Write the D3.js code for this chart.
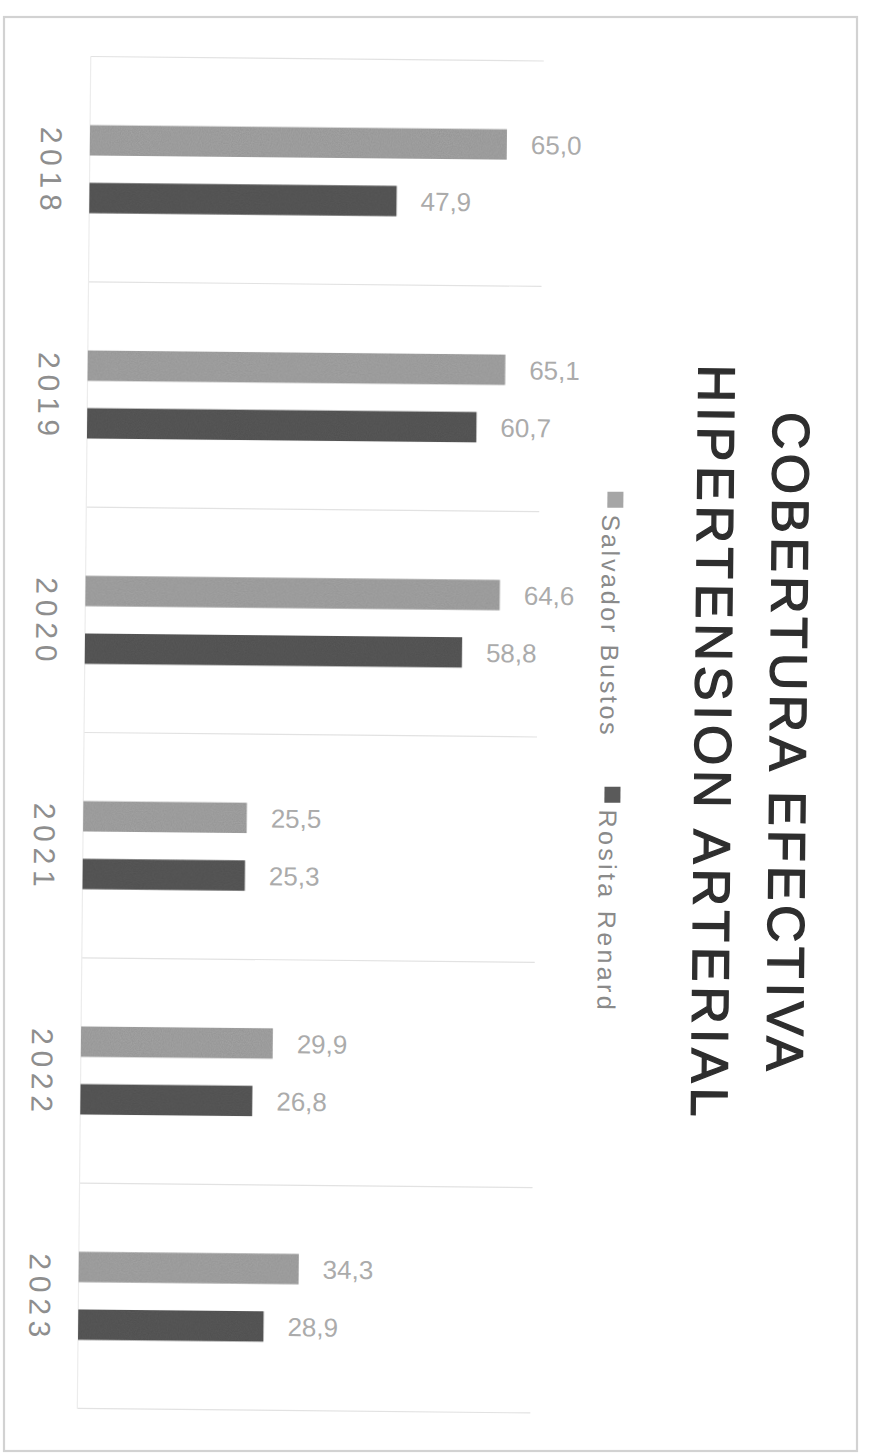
<!DOCTYPE html>
<html><head><meta charset="utf-8">
<script src="https://cdn.jsdelivr.net/npm/d3@7"></script>
<style>html,body{margin:0;padding:0;background:#fff;}svg{display:block;}</style>
</head><body>
<script>
const years = ["2018","2019","2020","2021","2022","2023"];
const seriesNames = ["Salvador Bustos","Rosita Renard"];
const salvadorBustos = [65.0, 65.1, 64.6, 25.5, 29.9, 34.3];
const rositaRenard = [47.9, 60.7, 58.8, 25.3, 26.8, 28.9];
const titleLines = ["COBERTURA EFECTIVA","HIPERTENSION ARTERIAL"];
const colors = ["#a6a6a6","#5a5a5a"];

const W = 876, H = 1456;
const svg = d3.select("body").append("svg").attr("width", W).attr("height", H);

const defs = svg.append("defs");
const f = defs.append("filter").attr("id","grain").attr("x",0).attr("y",0).attr("width",1).attr("height",1);
f.append("feTurbulence").attr("type","fractalNoise").attr("baseFrequency",0.9).attr("numOctaves",2).attr("seed",3).attr("result","n");
f.append("feColorMatrix").attr("in","n").attr("type","matrix")
 .attr("values","0 0 0 0 0  0 0 0 0 0  0 0 0 0 0  0 0 0 0.25 0").attr("result","na");
f.append("feComposite").attr("in","na").attr("in2","SourceGraphic").attr("operator","in").attr("result","nm");
f.append("feMerge").selectAll("feMergeNode").data(["SourceGraphic","nm"]).join("feMergeNode").attr("in",d=>d);

// outer frame
svg.append("rect").attr("x",4).attr("y",17).attr("width",853).attr("height",1434)
  .attr("fill","none").attr("stroke","#d2d2d2").attr("stroke-width",2.2);

const g = svg.append("g").attr("transform","rotate(0.57,438,738)");

const x = d3.scaleLinear().domain([0,70]).range([84, 533]);
const y = d3.scaleBand().domain(years).range([60, 1412]).padding(0);
const ys = d3.scaleBand().domain(seriesNames).range([0, y.bandwidth()]).paddingInner(0.4737).paddingOuter(1.19);

// category separators
const seps = years.map(d => y(d)).concat([y.range()[1]]);
g.append("g").selectAll("line").data(seps).join("line")
  .attr("x1", x(0)).attr("x2", 537).attr("y1", d=>d).attr("y2", d=>d)
  .attr("stroke","#e2e2e2").attr("stroke-width",1.2);
g.append("line").attr("x1",x(0)).attr("x2",x(0)).attr("y1",y.range()[0]).attr("y2",y.range()[1])
  .attr("stroke","#ececec").attr("stroke-width",1.2);

const data = [];
years.forEach((yr,i)=>{
  data.push({year:yr, s:seriesNames[0], v:salvadorBustos[i], c:colors[0]});
  data.push({year:yr, s:seriesNames[1], v:rositaRenard[i], c:colors[1]});
});

g.append("g").selectAll("rect").data(data).join("rect")
  .attr("x", x(0)).attr("y", d=>y(d.year)+ys(d.s))
  .attr("width", d=>x(d.v)-x(0)).attr("height", ys.bandwidth())
  .attr("fill", d=>d.c).attr("filter","url(#grain)");

g.append("g").selectAll("text").data(data).join("text")
  .attr("x", d=>x(d.v)+24).attr("y", d=>y(d.year)+ys(d.s)+ys.bandwidth()/2)
  .attr("dy","0.36em")
  .attr("font-family","'Liberation Sans', Arial, sans-serif").attr("font-size",26)
  .attr("fill","#ababab")
  .text(d=>d.v.toFixed(1).replace(".",","));

// year labels (rotated)
g.append("g").selectAll("text").data(years).join("text")
  .attr("transform", d=>`translate(35,${y(d)+y.bandwidth()/2}) rotate(90)`)
  .attr("text-anchor","middle")
  .attr("font-family","'Liberation Sans', Arial, sans-serif").attr("font-size",30)
  .attr("fill","#8e8e8e")
  .attr("textLength",84).attr("lengthAdjust","spacing")
  .text(d=>d);

// title (rotated)
const titleX = [770, 695], titleLen = [659, 752];
g.append("g").selectAll("text").data(titleLines).join("text")
  .attr("transform", (d,i)=>`translate(${titleX[i]},738) rotate(90)`)
  .attr("text-anchor","middle")
  .attr("font-family","'Liberation Sans', Arial, sans-serif").attr("font-size",52)
  .attr("fill","#2e2e2e").attr("stroke","#2e2e2e").attr("stroke-width",1.3)
  .attr("textLength",(d,i)=>titleLen[i]).attr("lengthAdjust","spacing")
  .text(d=>d);

// legend (rotated)
const legStart = [490, 785], legLen = [220, 200];
const leg = g.append("g").attr("transform","translate(600,0) rotate(90)");
const li = leg.selectAll("g").data(seriesNames).join("g");
li.append("rect").attr("x",(d,i)=>legStart[i]).attr("y",-21).attr("width",16).attr("height",16)
  .attr("fill",(d,i)=>colors[i]);
li.append("text").attr("x",(d,i)=>legStart[i]+23).attr("y",0)
  .attr("font-family","'Liberation Sans', Arial, sans-serif").attr("font-size",25)
  .attr("fill","#8a8a8a")
  .attr("textLength",(d,i)=>legLen[i]).attr("lengthAdjust","spacing")
  .text(d=>d);
</script>
</body></html>
